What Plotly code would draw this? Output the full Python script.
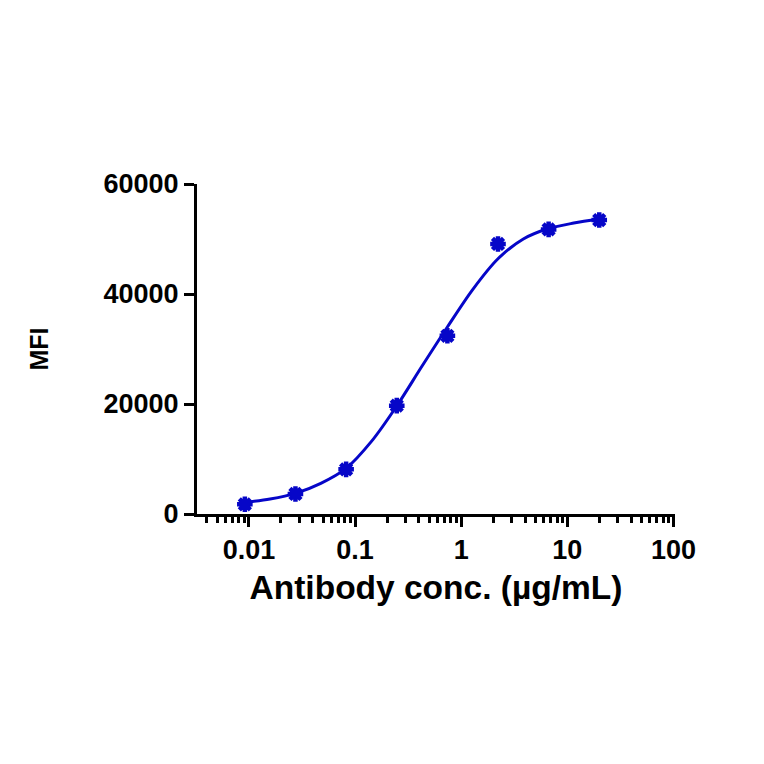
import plotly.graph_objects as go

# measured data
conc = [0.00914, 0.0274, 0.0823, 0.247, 0.741, 2.222, 6.667, 20.0]
mfi = [1760, 3640, 8120, 19700, 32400, 49100, 51750, 53450]

# fitted curve
curve_x = [0.00914, 0.0158, 0.0274, 0.0475, 0.0823, 0.1426, 0.247, 0.428,
           0.741, 1.283, 2.222, 3.85, 6.667, 11.5, 20.0]
curve_y = [2090, 2730, 3760, 5580, 8300, 13200, 19640, 26900,
           34000, 40800, 46400, 50000, 51900, 52900, 53640]

x_tickvals = [0.01, 0.1, 1, 10, 100]
x_ticktext = ["0.01", "0.1", "1", "10", "100"]
y_tickvals = [0, 20000, 40000, 60000]
y_ticktext = ["0", "20000", "40000", "60000"]

BLUE = "#0606C8"
FONT = "Liberation Sans"

fig = go.Figure()
fig.add_trace(go.Scatter(x=curve_x, y=curve_y, mode="lines",
                         line=dict(color=BLUE, width=3, shape="spline", smoothing=0.9),
                         showlegend=False, hoverinfo="skip"))
fig.add_trace(go.Scatter(x=conc, y=mfi, mode="markers",
                         marker=dict(symbol="asterisk", size=13, color=BLUE,
                                     line=dict(color=BLUE, width=4.5)),
                         showlegend=False))

fig.update_layout(
    width=764, height=764,
    margin=dict(l=189, r=97, t=176, b=258),
    paper_bgcolor="white", plot_bgcolor="white",
    font=dict(family=FONT, color="black"),
)
fig.update_xaxes(
    type="log", range=[-2.49, 2.015],
    tickvals=x_tickvals, ticktext=x_ticktext,
    tickfont=dict(family=FONT, size=27, weight="bold", color="black"),
    ticks="outside", ticklen=10, tickwidth=3, tickcolor="black",
    showline=True, linewidth=3, linecolor="black",
    showgrid=False, zeroline=False,
    minor=dict(ticks="outside", ticklen=6, tickwidth=3, tickcolor="black",
               dtick="D1", showgrid=False),
    title=dict(text="Antibody conc. (µg/mL)", standoff=12,
               font=dict(family=FONT, size=33.5, weight="bold", color="black")),
)
fig.update_yaxes(
    range=[0, 60000],
    tickvals=y_tickvals, ticktext=y_ticktext,
    tickfont=dict(family=FONT, size=27, weight="bold", color="black"),
    ticks="outside", ticklen=10, tickwidth=3, tickcolor="black",
    showline=True, linewidth=3, linecolor="black",
    showgrid=False, zeroline=False,
    title=dict(text="MFI", standoff=48,
               font=dict(family=FONT, size=25, weight="bold", color="black")),
)

fig.write_html("out.html")
